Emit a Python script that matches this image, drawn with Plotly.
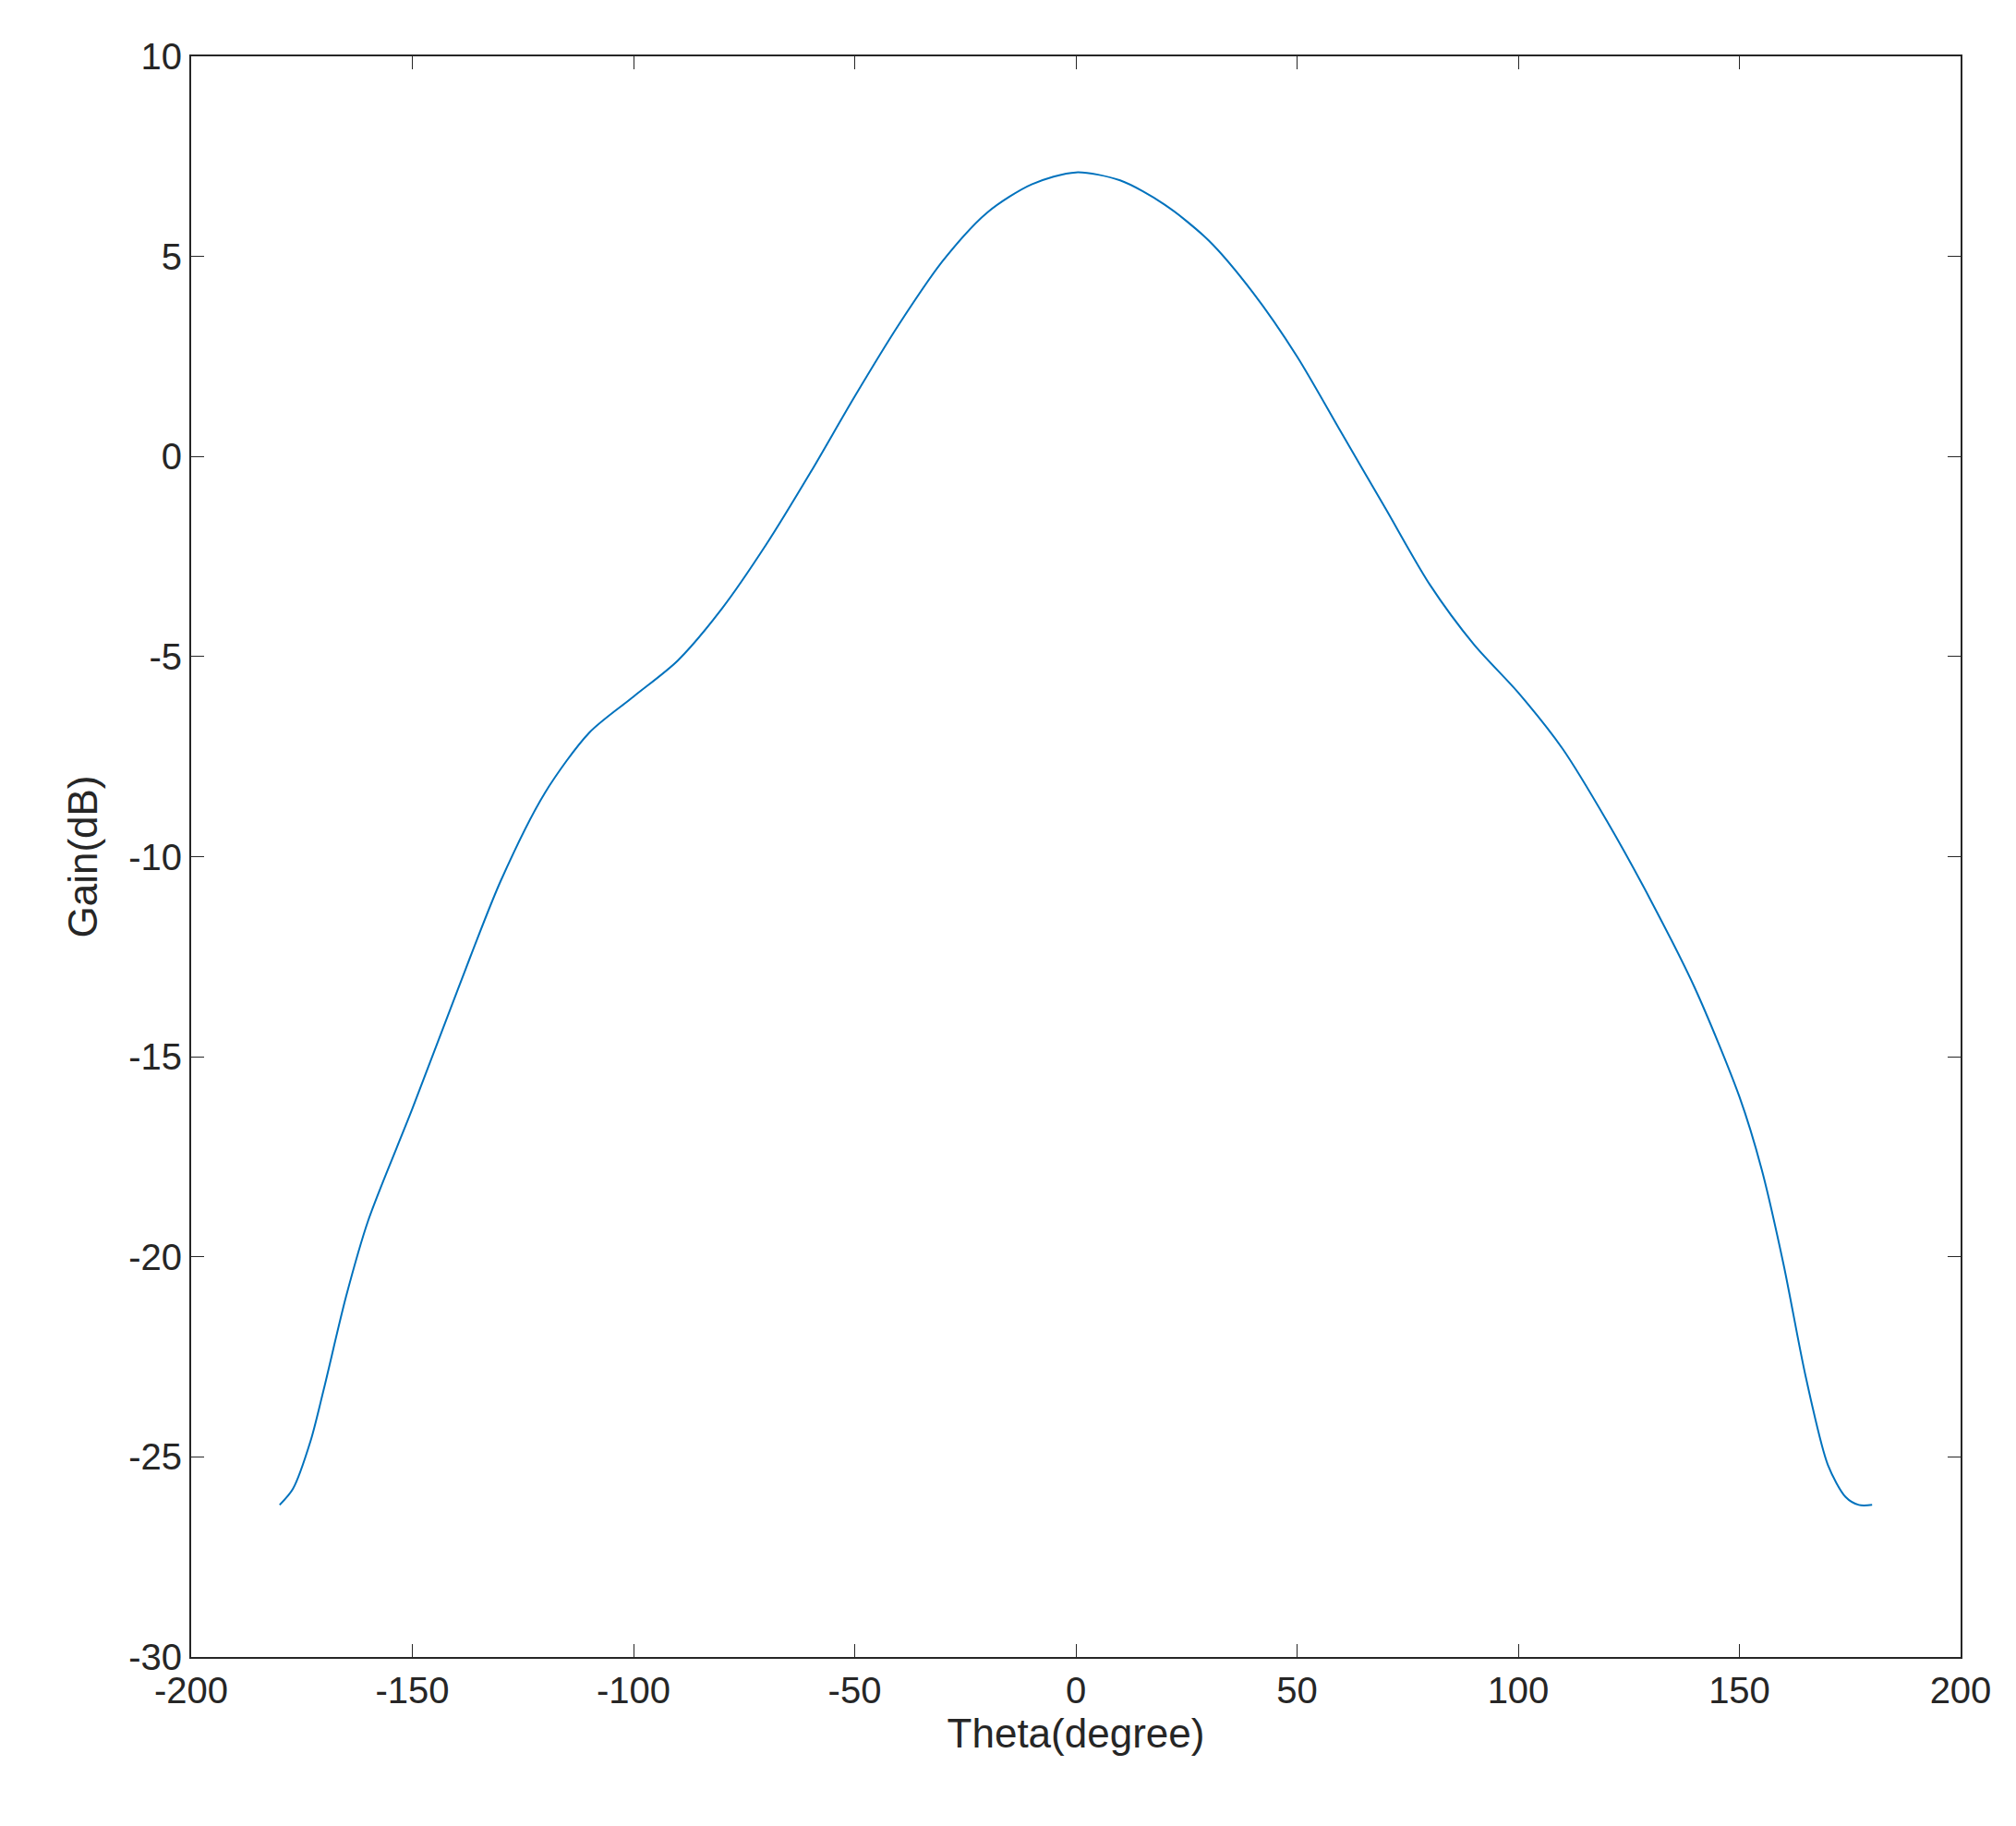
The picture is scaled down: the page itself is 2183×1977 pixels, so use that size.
import plotly.graph_objects as go

theta = [-180, -177, -173, -170, -165, -160, -150, -140, -130, -120, -110, -100, -90, -80, -70,
         -60, -50, -40, -30, -20, -10, 0, 10, 20, 30, 40, 50, 60, 70, 80, 90, 100, 110,
         120, 130, 140, 150, 155, 160, 165, 170, 174, 177, 180]
gain = [-26.2, -25.8, -24.6, -23.3, -21.0, -19.1, -16.3, -13.4, -10.6, -8.4, -6.9, -6.0, -5.1, -3.8, -2.2,
        -0.4, 1.5, 3.3, 4.9, 6.1, 6.8, 7.1, 6.9, 6.3, 5.4, 4.1, 2.5, 0.6, -1.3, -3.2, -4.7, -5.9, -7.3,
        -9.1, -11.1, -13.3, -16.0, -17.8, -20.2, -23.0, -25.2, -26.0, -26.2, -26.2]

x_ticks = list(range(-200, 201, 50))
y_ticks = list(range(-30, 11, 5))

fig = go.Figure(go.Scatter(x=theta, y=gain, mode="lines",
                           line=dict(color="#0072BD", width=2, shape="spline", smoothing=0.8)))

axis_style = dict(showline=True, linecolor="#262626", linewidth=2, mirror="ticks",
                  ticks="inside", ticklen=14, tickcolor="#262626", showgrid=False,
                  zeroline=False, tickfont=dict(size=40, color="#262626"))
fig.update_xaxes(range=[-200, 200], tickvals=x_ticks, ticktext=[str(v) for v in x_ticks],
                 title=dict(text="Theta(degree)", font=dict(size=44, color="#262626"), standoff=10),
                 **axis_style)
fig.update_yaxes(range=[-30, 10], tickvals=y_ticks, ticktext=[str(v) for v in y_ticks],
                 title=dict(text="Gain(dB)", font=dict(size=44, color="#262626"), standoff=20),
                 **axis_style)

fig.update_layout(width=2183, height=1977, plot_bgcolor="white", paper_bgcolor="white",
                  font=dict(family="Liberation Sans, Arial"), showlegend=False,
                  margin=dict(l=199, r=68, t=53, b=191))

fig.write_html("out.html")
